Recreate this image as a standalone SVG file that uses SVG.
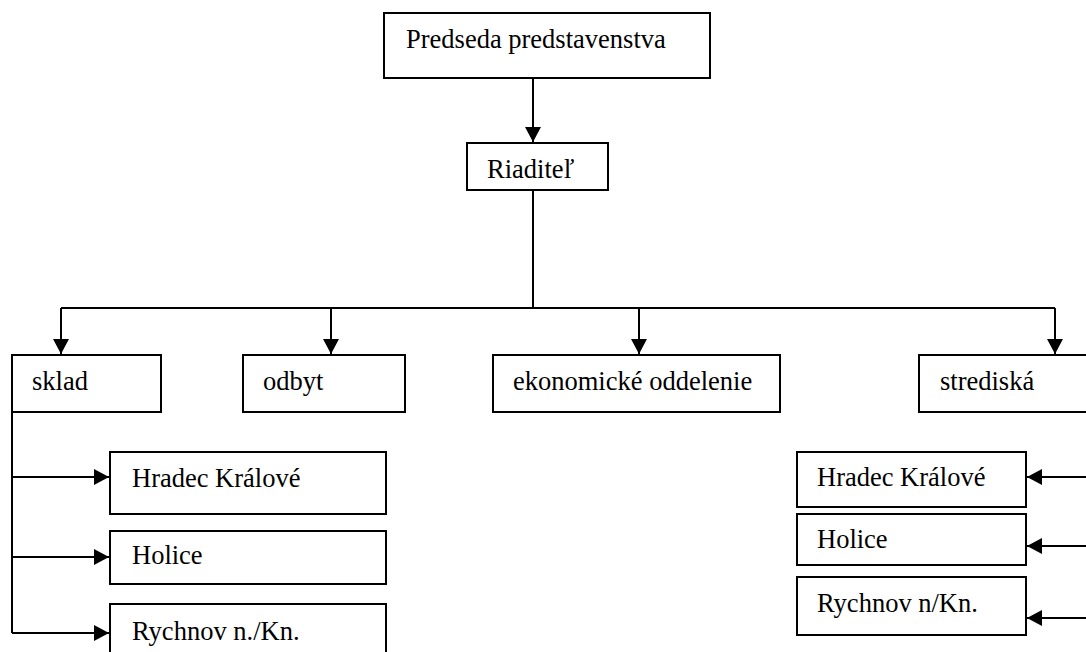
<svg xmlns="http://www.w3.org/2000/svg" width="1086" height="652" viewBox="0 0 1086 652">
<style>
.box{fill:#fff;stroke:#000;stroke-width:2}
.t{font-family:"Liberation Serif","Times New Roman",serif;font-size:26.5px;fill:#000}
.c{fill:none;stroke:#000;stroke-width:2}
</style>
<defs>
<marker id="ah" markerUnits="userSpaceOnUse" markerWidth="16" markerHeight="16" viewBox="0 0 16 16" refX="15" refY="8" orient="auto">
<path d="M0,0 L15,8 L0,16 Z" fill="#000"/>
</marker>
</defs>
<rect width="1086" height="652" fill="#fff"/>
<g id="connectors">
<path class="c" d="M533 78 V142" marker-end="url(#ah)"/>
<path class="c" d="M533 190 V308 M61 308 H1055"/>
<path class="c" d="M61 308 V354" marker-end="url(#ah)"/>
<path class="c" d="M331 308 V354" marker-end="url(#ah)"/>
<path class="c" d="M639 308 V354" marker-end="url(#ah)"/>
<path class="c" d="M1055 308 V354" marker-end="url(#ah)"/>
<path class="c" d="M12 412 V633"/>
<path class="c" d="M12 477 H109" marker-end="url(#ah)"/>
<path class="c" d="M12 557 H109" marker-end="url(#ah)"/>
<path class="c" d="M12 633 H109" marker-end="url(#ah)"/>
<path class="c" d="M1088 477 H1027" marker-end="url(#ah)"/>
<path class="c" d="M1088 546 H1027" marker-end="url(#ah)"/>
<path class="c" d="M1088 618 H1027" marker-end="url(#ah)"/>
</g>
<g id="predseda"><rect class="box" x="384" y="13" width="326" height="65"/><text class="t" x="406" y="48">Predseda predstavenstva</text></g>
<g id="riaditel"><rect class="box" x="467" y="143" width="141" height="47"/><text class="t" x="487" y="178">Riaditeľ</text></g>
<g id="sklad"><rect class="box" x="12" y="355" width="149" height="57"/><text class="t" x="32" y="390">sklad</text></g>
<g id="odbyt"><rect class="box" x="243" y="355" width="162" height="57"/><text class="t" x="263" y="390">odbyt</text></g>
<g id="ekonomicke"><rect class="box" x="493" y="355" width="287" height="57"/><text class="t" x="513" y="390">ekonomické oddelenie</text></g>
<g id="strediska"><rect class="box" x="919" y="355" width="180" height="57"/><text class="t" x="940" y="390">strediská</text></g>
<g id="sklad-hradec"><rect class="box" x="110" y="452" width="276" height="62"/><text class="t" x="132" y="487">Hradec Králové</text></g>
<g id="sklad-holice"><rect class="box" x="110" y="531" width="276" height="53"/><text class="t" x="132" y="564">Holice</text></g>
<g id="sklad-rychnov"><rect class="box" x="110" y="604" width="276" height="60"/><text class="t" x="132" y="640">Rychnov n./Kn.</text></g>
<g id="str-hradec"><rect class="box" x="797" y="452" width="229" height="55"/><text class="t" x="817" y="486">Hradec Králové</text></g>
<g id="str-holice"><rect class="box" x="797" y="514" width="229" height="51"/><text class="t" x="817" y="548">Holice</text></g>
<g id="str-rychnov"><rect class="box" x="797" y="577" width="229" height="58"/><text class="t" x="817" y="612">Rychnov n/Kn.</text></g>
</svg>
